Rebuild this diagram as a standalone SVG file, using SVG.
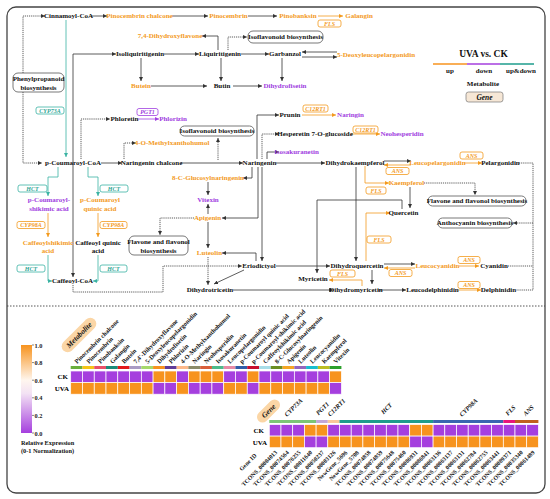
<svg xmlns="http://www.w3.org/2000/svg" width="550" height="499" viewBox="0 0 550 499">
<style>
.t{font-family:"Liberation Serif","Times New Roman",serif;font-weight:bold;font-size:7px;text-anchor:middle;dominant-baseline:central}
.k{fill:#111}.o{fill:#F39A1E}.p{fill:#A040E0}.tc{fill:#2FA595}
.gi{font-family:"Liberation Serif","Times New Roman",serif;font-weight:bold;font-style:italic;font-size:6px;text-anchor:middle;dominant-baseline:central}
.bx{fill:#fff;stroke:#555;stroke-width:0.8}
.gb{fill:#fff;stroke-width:0.8}
.gbo{stroke:#F39A1E}.gbt{stroke:#3BB3A3}.gbp{stroke:#A040E0}
.ln{stroke:#333;stroke-width:0.8;fill:none}
.dt{stroke-dasharray:1.2 0.9}
.ol{stroke:#F39A1E}.tl{stroke:#3BB3A3}.pl{stroke:#A040E0}
.co{fill:#F7931E;stroke:#fff;stroke-width:0.7}
.cp{fill:#A53FDE;stroke:#fff;stroke-width:0.7}
.hl{font-family:"Liberation Serif","Times New Roman",serif;font-weight:bold;font-size:6.3px}
</style>
<defs>
<marker id="ak" viewBox="0 0 6 6" refX="6" refY="3" markerWidth="4" markerHeight="4" markerUnits="userSpaceOnUse" orient="auto-start-reverse"><path d="M0,0L6,3L0,6z" fill="#333"/></marker>
<marker id="ao" viewBox="0 0 6 6" refX="6" refY="3" markerWidth="4" markerHeight="4" markerUnits="userSpaceOnUse" orient="auto-start-reverse"><path d="M0,0L6,3L0,6z" fill="#F39A1E"/></marker>
<marker id="at" viewBox="0 0 6 6" refX="6" refY="3" markerWidth="4" markerHeight="4" markerUnits="userSpaceOnUse" orient="auto-start-reverse"><path d="M0,0L6,3L0,6z" fill="#3BB3A3"/></marker>
<marker id="ap" viewBox="0 0 6 6" refX="6" refY="3" markerWidth="4" markerHeight="4" markerUnits="userSpaceOnUse" orient="auto-start-reverse"><path d="M0,0L6,3L0,6z" fill="#A040E0"/></marker>
<linearGradient id="cbar" x1="0" y1="0" x2="0" y2="1">
<stop offset="0" stop-color="#F7931E"/><stop offset="0.4" stop-color="#FFF6EE"/><stop offset="0.55" stop-color="#F3E2F4"/><stop offset="1" stop-color="#A53FDE"/>
</linearGradient>
</defs>
<rect x="7" y="7" width="538" height="486" rx="9" fill="#fff" stroke="#444" stroke-width="1.3"/>
<line x1="7" y1="306" x2="545" y2="306" stroke="#444" stroke-width="0.9" stroke-dasharray="1.5 1.5"/>

<g id="connectors">
<path class="ln dt" d="M23,73V16H45" marker-end="url(#ak)"/>
<path class="ln dt" d="M23,92V163H42" marker-end="url(#ak)"/>
<path class="ln" d="M91,16H107" marker-end="url(#ak)"/>
<path class="ln" d="M172,16H208" marker-end="url(#ak)"/>
<path class="ln" d="M248,16H277" marker-end="url(#ak)"/>
<path class="ln ol" d="M318,16H343" marker-end="url(#ao)"/>
<path class="ln tl" d="M66,20V157" marker-end="url(#at)"/>
<path class="ln" d="M116,54H73V277" marker-start="url(#ak)" marker-end="url(#ak)"/>
<path class="ln" d="M164,54H199" marker-end="url(#ak)"/>
<path class="ln" d="M141,58V81" marker-end="url(#ak)"/>
<path class="ln" d="M218,50V36H202" marker-end="url(#ak)"/>
<path class="ln dt" d="M228,50V37H247" marker-end="url(#ak)"/>
<path class="ln" d="M241,54H269" marker-end="url(#ak)"/>
<path class="ln" d="M337,52H302" marker-end="url(#ak)"/>
<path class="ln" d="M302,57H337" marker-end="url(#ak)"/>
<path class="ln" d="M221,58V81" marker-end="url(#ak)"/>
<path class="ln" d="M151,86H207" marker-end="url(#ak)"/>
<path class="ln" d="M233,86H262" marker-end="url(#ak)"/>
<path class="ln" d="M282,58V81" marker-end="url(#ak)"/>
<path class="ln dt" d="M81,159V119H110" marker-end="url(#ak)"/>
<path class="ln pl" d="M138,119H159" marker-end="url(#ap)"/>
<path class="ln dt" d="M124,159V143H136" marker-end="url(#ak)"/>
<path class="ln" d="M101,163H122" marker-end="url(#ak)"/>
<path class="ln" d="M181,163H243" marker-end="url(#ak)"/>
<path class="ln dt" d="M218,160V138" marker-end="url(#ak)"/>
<path class="ln" d="M257,159V115H279" marker-end="url(#ak)"/>
<path class="ln ol" d="M302,115H336" marker-end="url(#ao)"/>
<path class="ln dt" d="M262,159V134H279" marker-end="url(#ak)"/>
<path class="ln ol" d="M351,134H380" marker-end="url(#ao)"/>
<path class="ln" d="M267,159V152H279" marker-end="url(#ak)"/>
<path class="ln" d="M276,163H325" marker-end="url(#ak)"/>
<path class="ln" d="M252,167V178H243" marker-end="url(#ak)"/>
<path class="ln" d="M208,182V195" marker-end="url(#ak)"/>
<path class="ln" d="M208,214V204" marker-end="url(#ak)"/>
<path class="ln" d="M258,167V218H222" marker-end="url(#ak)"/>
<path class="ln" d="M262,167V261" marker-end="url(#ak)"/>
<path class="ln" d="M256,261V253H222" marker-end="url(#ak)"/>
<path class="ln" d="M208,222V248" marker-end="url(#ak)"/>
<path class="ln dt" d="M208,257V285" marker-end="url(#ak)"/>
<path class="ln dt" d="M194,218H160V235" marker-end="url(#ak)"/>
<path class="ln dt" d="M73,285V292H163V266H242" marker-end="url(#ak)"/>
<path class="ln" d="M244,270L214,284" marker-end="url(#ak)"/>
<path class="ln" d="M276,266H330" marker-end="url(#ak)"/>
<path class="ln" d="M233,290H333" marker-end="url(#ak)"/>
<path class="ln" d="M384,161H411" marker-end="url(#ak)"/>
<path class="ln ol" d="M411,165H384" marker-end="url(#ao)"/>
<path class="ln ol" d="M464,163H482" marker-end="url(#ao)"/>
<path class="ln dt" d="M519,163H533V290H516"/>
<path class="ln dt" d="M508,266H533"/>
<path class="ln dt" d="M533,223H513" marker-end="url(#ak)"/>
<path class="ln ol" d="M365,166V183H389" marker-end="url(#ao)"/>
<path class="ln dt" d="M424,183H475V195" marker-end="url(#ak)"/>
<path class="ln" d="M410,187V208" marker-end="url(#ak)"/>
<path class="ln" d="M356,167V261" marker-end="url(#ak)"/>
<path class="ln" d="M402,209V200H317V273" marker-end="url(#ak)"/>
<path class="ln ol" d="M366,261V213H390" marker-end="url(#ao)"/>
<path class="ln" d="M384,264H415" marker-end="url(#ak)"/>
<path class="ln ol" d="M415,268H384" marker-end="url(#ao)"/>
<path class="ln ol" d="M459,266H479" marker-end="url(#ao)"/>
<path class="ln" d="M372,270V284" marker-end="url(#ak)"/>
<path class="ln ol" d="M362,286V280H329" marker-end="url(#ao)"/>
<path class="ln" d="M378,290H406" marker-end="url(#ak)"/>
<path class="ln ol" d="M458,290H481" marker-end="url(#ao)"/>
<path class="ln tl" d="M58,167V177H48V196" marker-end="url(#at)"/>
<path class="ln tl" d="M88,167V177H98V196" marker-end="url(#at)"/>
<path class="ln ol" d="M48,213V237" marker-end="url(#ao)"/>
<path class="ln ol" d="M98,213V237" marker-end="url(#ao)"/>
<path class="ln tl" d="M48,255V281H52" marker-end="url(#at)"/>
<path class="ln tl" d="M98,255V281H93" marker-end="url(#at)"/>
</g>

<g id="nodes">
<g id="n-cinnamoyl"><text class="t k" x="68.5" y="16">Cinnamoyl-CoA</text></g>
<g id="n-pinochal"><text class="t o" x="139.5" y="16">Pinocembrin chalcone</text></g>
<g id="n-pinocembrin"><text class="t o" x="228.5" y="16">Pinocembrin</text></g>
<g id="n-pinobanksin"><text class="t o" x="298" y="16">Pinobanksin</text></g>
<g id="n-galangin"><text class="t o" x="359" y="16">Galangin</text></g>
<g id="g-fls1"><rect class="gb gbo" x="318" y="20" width="23" height="7" rx="2"/><text class="gi o" x="329.5" y="23.5">FLS</text></g>
<g id="n-dhf"><text class="t o" x="170" y="36">7,4-Dihydroxyflavone</text></g>
<g id="n-isoflav1"><rect class="bx" x="248" y="31" width="75" height="12" rx="5"/><text class="t k" x="285.5" y="37">Isoflavonoid biosynthesis</text></g>
<g id="n-isoliq"><text class="t k" x="140" y="54">Isoliquiritigenin</text></g>
<g id="n-liq"><text class="t k" x="220" y="54">Liquiritigenin</text></g>
<g id="n-garb"><text class="t k" x="285" y="54">Garbanzol</text></g>
<g id="n-5deoxy"><text class="t o" x="376" y="55">5-Deoxyleucopelargonidin</text></g>
<g id="n-phenyl"><rect class="bx" x="13" y="73" width="51" height="19" rx="5"/><text class="t k" x="38.5" y="79">Phenylpropanoid</text><text class="t k" x="38.5" y="87.5">biosynthesis</text></g>
<g id="n-butein"><text class="t o" x="141" y="86">Butein</text></g>
<g id="n-butin"><text class="t k" x="222" y="86">Butin</text></g>
<g id="n-dhfis"><text class="t p" x="285" y="86">Dihydrofisetin</text></g>
<g id="g-cyp73a"><rect class="gb gbt" x="36" y="107" width="28" height="7" rx="2"/><text class="gi tc" x="50" y="110.5">CYP73A</text></g>
<g id="n-phloretin"><text class="t k" x="124.5" y="119">Phloretin</text></g>
<g id="g-pgt1"><rect class="gb gbp" x="137" y="108.5" width="21" height="7" rx="2"/><text class="gi p" x="147.5" y="112">PGT1</text></g>
<g id="n-phlorizin"><text class="t p" x="173" y="119">Phlorizin</text></g>
<g id="n-prunin"><text class="t k" x="290" y="115">Prunin</text></g>
<g id="g-c12rt1a"><rect class="gb gbo" x="303" y="105" width="25" height="7" rx="2"/><text class="gi o" x="315.5" y="108.5">C12RT1</text></g>
<g id="n-naringin"><text class="t p" x="350.5" y="115">Naringin</text></g>
<g id="n-isoflav2"><rect class="bx" x="180" y="126" width="74" height="10" rx="4.5"/><text class="t k" x="217" y="131">Isoflavonoid biosynthesis</text></g>
<g id="n-hesp"><text class="t k" x="315" y="134">Hesperetin 7-O-glucoside</text></g>
<g id="g-c12rt1b"><rect class="gb gbo" x="353" y="126" width="25" height="7" rx="2"/><text class="gi o" x="365.5" y="129.5">C12RT1</text></g>
<g id="n-neohesp"><text class="t p" x="402" y="134">Neohesperidin</text></g>
<g id="n-4omx"><text class="t o" x="172" y="143">4-O-Methylxanthohumol</text></g>
<g id="n-isosak"><text class="t p" x="296.5" y="152">Isosakuranetin</text></g>
<g id="g-ans1"><rect class="gb gbo" x="460" y="152" width="23" height="7" rx="2"/><text class="gi o" x="471.5" y="155.5">ANS</text></g>
<g id="n-pcoa"><text class="t k" x="73" y="163">p-Coumaroyl-CoA</text></g>
<g id="n-narchal"><text class="t k" x="151.5" y="163">Naringenin chalcone</text></g>
<g id="n-naringenin"><text class="t k" x="259.5" y="163">Naringenin</text></g>
<g id="n-dhk"><text class="t k" x="355" y="163">Dihydrokaempferol</text></g>
<g id="n-leucopel"><text class="t o" x="437.5" y="163">Leucopelargonidin</text></g>
<g id="n-pelarg"><text class="t k" x="500.5" y="163">Pelargonidin</text></g>
<g id="g-ans2"><rect class="gb gbo" x="386" y="167.5" width="23" height="7" rx="2"/><text class="gi o" x="397.5" y="171">ANS</text></g>
<g id="n-8cg"><text class="t o" x="208" y="178">8-C-Glucosylnaringenin</text></g>
<g id="n-kaemp"><text class="t o" x="406.5" y="183">Kaempferol</text></g>
<g id="g-hct1"><rect class="gb gbt" x="18" y="185" width="29" height="7" rx="2"/><text class="gi tc" x="32.5" y="188.5">HCT</text></g>
<g id="g-hct2"><rect class="gb gbt" x="100" y="185" width="28" height="7" rx="2"/><text class="gi tc" x="114" y="188.5">HCT</text></g>
<g id="g-fls2"><rect class="gb gbo" x="366" y="187" width="20" height="7" rx="2"/><text class="gi o" x="376" y="190.5">FLS</text></g>
<g id="n-flav2"><rect class="bx" x="428" y="196" width="98" height="10" rx="4.5"/><text class="t k" x="477" y="201">Flavone and flavonol biosynthesis</text></g>
<g id="n-vitexin"><text class="t p" x="208" y="200">Vitexin</text></g>
<g id="n-pcs"><text class="t p" x="49" y="200">p-Coumaroyl-</text><text class="t p" x="49" y="209">shikimic acid</text></g>
<g id="n-pcq"><text class="t o" x="100" y="200">p-Coumaroyl</text><text class="t o" x="100" y="209">quinic acid</text></g>
<g id="n-querc"><text class="t k" x="403.5" y="213">Quercetin</text></g>
<g id="n-apigenin"><text class="t o" x="207.5" y="218">Apigenin</text></g>
<g id="n-antho"><rect class="bx" x="438" y="218" width="74" height="10" rx="4.5"/><text class="t k" x="475" y="223">Anthocyanin biosynthesis</text></g>
<g id="g-cyp98a1"><rect class="gb gbo" x="17" y="221.5" width="28" height="7" rx="2"/><text class="gi o" x="31" y="225">CYP98A</text></g>
<g id="g-cyp98a2"><rect class="gb gbo" x="100" y="221.5" width="27" height="7" rx="2"/><text class="gi o" x="113.5" y="225">CYP98A</text></g>
<g id="n-flav1"><rect class="bx" x="129" y="236" width="59" height="19" rx="5"/><text class="t k" x="158.5" y="242">Flavone and flavonol</text><text class="t k" x="158.5" y="250.5">biosynthesis</text></g>
<g id="g-fls3"><rect class="gb gbo" x="367" y="236" width="24" height="7" rx="2"/><text class="gi o" x="379" y="239.5">FLS</text></g>
<g id="n-cafshik"><text class="t o" x="48" y="243">Caffeoylshikimic</text><text class="t o" x="48" y="251">acid</text></g>
<g id="n-cafquin"><text class="t k" x="98" y="243">Caffeoyl quinic</text><text class="t k" x="98" y="251">acid</text></g>
<g id="n-luteolin"><text class="t o" x="209.5" y="253">Luteolin</text></g>
<g id="g-ans3"><rect class="gb gbo" x="458" y="256.5" width="22" height="7" rx="2"/><text class="gi o" x="469" y="260">ANS</text></g>
<g id="n-dhq"><text class="t k" x="357" y="266">Dihydroquercetin</text></g>
<g id="n-eriod"><text class="t k" x="259" y="266">Eriodictyol</text></g>
<g id="n-leucocy"><text class="t o" x="437.5" y="266">Leucocyanidin</text></g>
<g id="n-cyanidin"><text class="t k" x="494" y="266">Cyanidin</text></g>
<g id="g-hct3"><rect class="gb gbt" x="17" y="265" width="28" height="7" rx="2"/><text class="gi tc" x="31" y="268.5">HCT</text></g>
<g id="g-hct4"><rect class="gb gbt" x="100" y="265" width="27" height="7" rx="2"/><text class="gi tc" x="113.5" y="268.5">HCT</text></g>
<g id="g-ans4"><rect class="gb gbo" x="389" y="269.5" width="23" height="7" rx="2"/><text class="gi o" x="400.5" y="273">ANS</text></g>
<g id="g-fls4"><rect class="gb gbo" x="330" y="270" width="25" height="7" rx="2"/><text class="gi o" x="342.5" y="273.5">FLS</text></g>
<g id="n-myric"><text class="t k" x="313" y="279">Myricetin</text></g>
<g id="n-cafcoa"><text class="t k" x="72.5" y="281">Caffeoyl-CoA</text></g>
<g id="g-ans5"><rect class="gb gbo" x="458" y="281.5" width="22" height="7" rx="2"/><text class="gi o" x="469" y="285">ANS</text></g>
<g id="n-dhtri"><text class="t k" x="210" y="290">Dihydrotricetin</text></g>
<g id="n-dhmyr"><text class="t k" x="356" y="290">Dihydromyricetin</text></g>
<g id="n-leucodel"><text class="t k" x="432.5" y="290">Leucodelphinidin</text></g>
<g id="n-delph"><text class="t k" x="498.5" y="290">Delphinidin</text></g>
</g>

<g id="legend">
<text class="t k" x="483.5" y="54" style="font-size:9.5px">UVA vs. CK</text>
<line x1="433" y1="64" x2="467" y2="64" stroke="#F7931E" stroke-width="1.6"/>
<line x1="467" y1="64" x2="500" y2="64" stroke="#A53FDE" stroke-width="1.6"/>
<line x1="500" y1="64" x2="534" y2="64" stroke="#1E9C8C" stroke-width="1.6"/>
<text class="t k" x="450" y="70.5">up</text>
<text class="t k" x="484" y="70.5">down</text>
<text class="t k" x="521" y="70.5">up&amp;down</text>
<text class="t k" x="483" y="84">Metabolite</text>
<rect x="466" y="92" width="37" height="10" rx="2.5" fill="#F6E7D6" stroke="#777" stroke-width="0.7"/>
<text class="t k" x="484.5" y="97" style="font-style:italic;font-size:7.5px">Gene</text>
</g>

<g id="colorbar">
<rect x="21" y="345" width="11" height="88" fill="url(#cbar)"/>
<g stroke="#333" stroke-width="0.6"><line x1="32" y1="345" x2="34" y2="345"/><line x1="32" y1="362.6" x2="34" y2="362.6"/><line x1="32" y1="380.2" x2="34" y2="380.2"/><line x1="32" y1="397.8" x2="34" y2="397.8"/><line x1="32" y1="415.4" x2="34" y2="415.4"/><line x1="32" y1="433" x2="34" y2="433"/></g>
<g class="hl" fill="#222" style="dominant-baseline:central">
<text x="34.5" y="345">1.0</text><text x="34.5" y="362.6">0.8</text><text x="34.5" y="380.2">0.6</text><text x="34.5" y="397.8">0.4</text><text x="34.5" y="415.4">0.2</text><text x="34.5" y="433">0.0</text>
</g>
<text class="hl" x="21" y="445" fill="#111">Relative Expression</text>
<text class="hl" x="21" y="453" fill="#111">(0-1 Normalization)</text>
</g>

<g id="metabolite-heatmap">
<g transform="translate(79,335) rotate(-45)"><rect x="-22" y="-6" width="44" height="12" rx="6" fill="#FBD6A6"/><text class="t k" x="0" y="0" style="font-style:italic;font-size:7.5px">Metabolite</text></g>
<g id="mstrip">
<rect x="70.7" y="366" width="11.77" height="3" fill="#6AAF3D"/>
<rect x="82.47" y="366" width="11.77" height="3" fill="#F5C518"/>
<rect x="94.24" y="366" width="11.77" height="3" fill="#E8506A"/>
<rect x="106.01" y="366" width="11.77" height="3" fill="#1A8C7A"/>
<rect x="117.78" y="366" width="11.77" height="3" fill="#E31A1C"/>
<rect x="129.55" y="366" width="11.77" height="3" fill="#A99BC4"/>
<rect x="141.32" y="366" width="11.77" height="3" fill="#A6D96A"/>
<rect x="153.09" y="366" width="11.77" height="3" fill="#F7931E"/>
<rect x="164.86" y="366" width="11.77" height="3" fill="#5E3C99"/>
<rect x="176.63" y="366" width="11.77" height="3" fill="#FDB98A"/>
<rect x="188.4" y="366" width="11.77" height="3" fill="#8C8C6A"/>
<rect x="200.17" y="366" width="11.77" height="3" fill="#D95F3B"/>
<rect x="211.94" y="366" width="11.77" height="3" fill="#4DBB8A"/>
<rect x="223.71" y="366" width="11.77" height="3" fill="#E78AA6"/>
<rect x="235.48" y="366" width="11.77" height="3" fill="#2F5DA8"/>
<rect x="247.25" y="366" width="11.77" height="3" fill="#C8102E"/>
<rect x="259.02" y="366" width="11.77" height="3" fill="#A8DDE8"/>
<rect x="270.79" y="366" width="11.77" height="3" fill="#6B8E23"/>
<rect x="282.56" y="366" width="11.77" height="3" fill="#F5A623"/>
<rect x="294.33" y="366" width="11.77" height="3" fill="#9467BD"/>
<rect x="306.1" y="366" width="11.77" height="3" fill="#17BECF"/>
<rect x="317.87" y="366" width="11.77" height="3" fill="#BCBD22"/>
<rect x="329.64" y="366" width="11.77" height="3" fill="#2CA02C"/>
</g>
<g id="mcells">
<rect class="cp" x="70.7" y="371" width="11.77" height="11.6"/><rect class="co" x="70.7" y="382.6" width="11.77" height="11.6"/>
<rect class="cp" x="82.47" y="371" width="11.77" height="11.6"/><rect class="co" x="82.47" y="382.6" width="11.77" height="11.6"/>
<rect class="cp" x="94.24" y="371" width="11.77" height="11.6"/><rect class="co" x="94.24" y="382.6" width="11.77" height="11.6"/>
<rect class="cp" x="106.01" y="371" width="11.77" height="11.6"/><rect class="co" x="106.01" y="382.6" width="11.77" height="11.6"/>
<rect class="cp" x="117.78" y="371" width="11.77" height="11.6"/><rect class="co" x="117.78" y="382.6" width="11.77" height="11.6"/>
<rect class="cp" x="129.55" y="371" width="11.77" height="11.6"/><rect class="co" x="129.55" y="382.6" width="11.77" height="11.6"/>
<rect class="cp" x="141.32" y="371" width="11.77" height="11.6"/><rect class="co" x="141.32" y="382.6" width="11.77" height="11.6"/>
<rect class="co" x="153.09" y="371" width="11.77" height="11.6"/><rect class="cp" x="153.09" y="382.6" width="11.77" height="11.6"/>
<rect class="co" x="164.86" y="371" width="11.77" height="11.6"/><rect class="cp" x="164.86" y="382.6" width="11.77" height="11.6"/>
<rect class="cp" x="176.63" y="371" width="11.77" height="11.6"/><rect class="co" x="176.63" y="382.6" width="11.77" height="11.6"/>
<rect class="co" x="188.4" y="371" width="11.77" height="11.6"/><rect class="cp" x="188.4" y="382.6" width="11.77" height="11.6"/>
<rect class="co" x="200.17" y="371" width="11.77" height="11.6"/><rect class="cp" x="200.17" y="382.6" width="11.77" height="11.6"/>
<rect class="co" x="211.94" y="371" width="11.77" height="11.6"/><rect class="cp" x="211.94" y="382.6" width="11.77" height="11.6"/>
<rect class="cp" x="223.71" y="371" width="11.77" height="11.6"/><rect class="co" x="223.71" y="382.6" width="11.77" height="11.6"/>
<rect class="cp" x="235.48" y="371" width="11.77" height="11.6"/><rect class="co" x="235.48" y="382.6" width="11.77" height="11.6"/>
<rect class="co" x="247.25" y="371" width="11.77" height="11.6"/><rect class="cp" x="247.25" y="382.6" width="11.77" height="11.6"/>
<rect class="cp" x="259.02" y="371" width="11.77" height="11.6"/><rect class="co" x="259.02" y="382.6" width="11.77" height="11.6"/>
<rect class="cp" x="270.79" y="371" width="11.77" height="11.6"/><rect class="co" x="270.79" y="382.6" width="11.77" height="11.6"/>
<rect class="cp" x="282.56" y="371" width="11.77" height="11.6"/><rect class="co" x="282.56" y="382.6" width="11.77" height="11.6"/>
<rect class="cp" x="294.33" y="371" width="11.77" height="11.6"/><rect class="co" x="294.33" y="382.6" width="11.77" height="11.6"/>
<rect class="cp" x="306.1" y="371" width="11.77" height="11.6"/><rect class="co" x="306.1" y="382.6" width="11.77" height="11.6"/>
<rect class="cp" x="317.87" y="371" width="11.77" height="11.6"/><rect class="co" x="317.87" y="382.6" width="11.77" height="11.6"/>
<rect class="co" x="329.64" y="371" width="11.77" height="11.6"/><rect class="cp" x="329.64" y="382.6" width="11.77" height="11.6"/>
</g>
<text class="hl" x="68" y="379" text-anchor="end" style="font-size:7px">CK</text>
<text class="hl" x="69" y="391" text-anchor="end" style="font-size:7px">UVA</text>
<g id="mlabels" class="hl" fill="#111">
<text transform="translate(77.1,364) rotate(-45)">Pinocembrin chalcone</text>
<text transform="translate(88.9,364) rotate(-45)">Pinocembrin</text>
<text transform="translate(100.6,364) rotate(-45)">Pinobanksin</text>
<text transform="translate(112.4,364) rotate(-45)">Galangin</text>
<text transform="translate(124.2,364) rotate(-45)">Butein</text>
<text transform="translate(136,364) rotate(-45)">7,4'-Dihydroxyflavone</text>
<text transform="translate(147.7,364) rotate(-45)">5-Deoxyleucopelargonidin</text>
<text transform="translate(159.5,364) rotate(-45)">Dihydrofisetin</text>
<text transform="translate(171.3,364) rotate(-45)">Phlorizin</text>
<text transform="translate(183,364) rotate(-45)">4-O-Methylxanthohumol</text>
<text transform="translate(194.8,364) rotate(-45)">Naringin</text>
<text transform="translate(206.6,364) rotate(-45)">Neohesperidin</text>
<text transform="translate(218.3,364) rotate(-45)">Isosakuranetin</text>
<text transform="translate(230.1,364) rotate(-45)">Leucopelargonidin</text>
<text transform="translate(241.9,364) rotate(-45)">p-Coumaroyl quinic acid</text>
<text transform="translate(253.7,364) rotate(-45)">p-Coumaroyl-shikimic acid</text>
<text transform="translate(265.4,364) rotate(-45)">Caffeoylshikimic acid</text>
<text transform="translate(277.2,364) rotate(-45)">8-C-Glucosylnaringenin</text>
<text transform="translate(289,364) rotate(-45)">Apigenin</text>
<text transform="translate(300.7,364) rotate(-45)">Luteolin</text>
<text transform="translate(312.5,364) rotate(-45)">Leucocyanidin</text>
<text transform="translate(324.3,364) rotate(-45)">Kaempferol</text>
<text transform="translate(336,364) rotate(-45)">Vitexin</text>
</g>
</g>

<g id="gene-heatmap">
<g transform="translate(268.5,411) rotate(-45)"><rect x="-14" y="-5.5" width="28" height="11" rx="5.5" fill="#FBD6A6"/><text class="t k" x="0" y="0" style="font-style:italic;font-size:7.5px">Gene</text></g>
<g class="hl" fill="#111" style="font-style:italic;text-anchor:middle">
<text transform="translate(295,409) rotate(-45)">CYP73A</text>
<text transform="translate(324,410) rotate(-45)">PGT1</text>
<text transform="translate(338,409) rotate(-45)">C12RT1</text>
<text transform="translate(388,410) rotate(-45)">HCT</text>
<text transform="translate(470,409) rotate(-45)">CYP98A</text>
<text transform="translate(512,412) rotate(-45)">FLS</text>
<text transform="translate(530,412) rotate(-45)">ANS</text>
</g>
<rect x="269.3" y="420" width="46.8" height="3" fill="#7CC576"/>
<rect x="316.1" y="420" width="11.7" height="3" fill="#C3A6D8"/>
<rect x="327.8" y="420" width="11.7" height="3" fill="#F9C79A"/>
<rect x="339.5" y="420" width="93.6" height="3" fill="#1E9C8C"/>
<rect x="433.1" y="420" width="70.2" height="3" fill="#3A66B0"/>
<rect x="503.3" y="420" width="11.7" height="3" fill="#E8177A"/>
<rect x="515" y="420" width="23.4" height="3" fill="#C0601E"/>
<g id="gcells">
<rect class="cp" x="269.3" y="424.5" width="11.7" height="11.6"/><rect class="co" x="269.3" y="436.1" width="11.7" height="11.6"/>
<rect class="cp" x="281" y="424.5" width="11.7" height="11.6"/><rect class="co" x="281" y="436.1" width="11.7" height="11.6"/>
<rect class="cp" x="292.7" y="424.5" width="11.7" height="11.6"/><rect class="co" x="292.7" y="436.1" width="11.7" height="11.6"/>
<rect class="co" x="304.4" y="424.5" width="11.7" height="11.6"/><rect class="cp" x="304.4" y="436.1" width="11.7" height="11.6"/>
<rect class="co" x="316.1" y="424.5" width="11.7" height="11.6"/><rect class="cp" x="316.1" y="436.1" width="11.7" height="11.6"/>
<rect class="cp" x="327.8" y="424.5" width="11.7" height="11.6"/><rect class="co" x="327.8" y="436.1" width="11.7" height="11.6"/>
<rect class="cp" x="339.5" y="424.5" width="11.7" height="11.6"/><rect class="co" x="339.5" y="436.1" width="11.7" height="11.6"/>
<rect class="cp" x="351.2" y="424.5" width="11.7" height="11.6"/><rect class="co" x="351.2" y="436.1" width="11.7" height="11.6"/>
<rect class="cp" x="362.9" y="424.5" width="11.7" height="11.6"/><rect class="co" x="362.9" y="436.1" width="11.7" height="11.6"/>
<rect class="cp" x="374.6" y="424.5" width="11.7" height="11.6"/><rect class="co" x="374.6" y="436.1" width="11.7" height="11.6"/>
<rect class="cp" x="386.3" y="424.5" width="11.7" height="11.6"/><rect class="co" x="386.3" y="436.1" width="11.7" height="11.6"/>
<rect class="cp" x="398" y="424.5" width="11.7" height="11.6"/><rect class="co" x="398" y="436.1" width="11.7" height="11.6"/>
<rect class="co" x="409.7" y="424.5" width="11.7" height="11.6"/><rect class="cp" x="409.7" y="436.1" width="11.7" height="11.6"/>
<rect class="co" x="421.4" y="424.5" width="11.7" height="11.6"/><rect class="cp" x="421.4" y="436.1" width="11.7" height="11.6"/>
<rect class="cp" x="433.1" y="424.5" width="11.7" height="11.6"/><rect class="co" x="433.1" y="436.1" width="11.7" height="11.6"/>
<rect class="cp" x="444.8" y="424.5" width="11.7" height="11.6"/><rect class="co" x="444.8" y="436.1" width="11.7" height="11.6"/>
<rect class="cp" x="456.5" y="424.5" width="11.7" height="11.6"/><rect class="co" x="456.5" y="436.1" width="11.7" height="11.6"/>
<rect class="cp" x="468.2" y="424.5" width="11.7" height="11.6"/><rect class="co" x="468.2" y="436.1" width="11.7" height="11.6"/>
<rect class="cp" x="479.9" y="424.5" width="11.7" height="11.6"/><rect class="co" x="479.9" y="436.1" width="11.7" height="11.6"/>
<rect class="cp" x="491.6" y="424.5" width="11.7" height="11.6"/><rect class="co" x="491.6" y="436.1" width="11.7" height="11.6"/>
<rect class="cp" x="503.3" y="424.5" width="11.7" height="11.6"/><rect class="co" x="503.3" y="436.1" width="11.7" height="11.6"/>
<rect class="cp" x="515" y="424.5" width="11.7" height="11.6"/><rect class="co" x="515" y="436.1" width="11.7" height="11.6"/>
<rect class="cp" x="526.7" y="424.5" width="11.7" height="11.6"/><rect class="co" x="526.7" y="436.1" width="11.7" height="11.6"/>
</g>
<text class="hl" x="264" y="432.5" text-anchor="end" style="font-size:7px">CK</text>
<text class="hl" x="267" y="444.5" text-anchor="end" style="font-size:7px">UVA</text>
<g id="glabels" class="hl" fill="#111" style="text-anchor:end;font-size:6px">
<text transform="translate(257,456) rotate(-45)">Gene ID</text>
<text transform="translate(277.6,453) rotate(-45)">TCONS_00004013</text>
<text transform="translate(289.3,453) rotate(-45)">TCONS_00074564</text>
<text transform="translate(301,453) rotate(-45)">TCONS_00076255</text>
<text transform="translate(312.7,453) rotate(-45)">TCONS_00011640</text>
<text transform="translate(324.4,453) rotate(-45)">TCONS_00050237</text>
<text transform="translate(336.1,453) rotate(-45)">TCONS_00003126</text>
<text transform="translate(347.8,453) rotate(-45)">NewGene_5696</text>
<text transform="translate(359.5,453) rotate(-45)">NewGene_5708</text>
<text transform="translate(371.2,453) rotate(-45)">TCONS_00074858</text>
<text transform="translate(382.9,453) rotate(-45)">TCONS_00074859</text>
<text transform="translate(394.6,453) rotate(-45)">TCONS_00075648</text>
<text transform="translate(406.3,453) rotate(-45)">TCONS_00075460</text>
<text transform="translate(418,453) rotate(-45)">TCONS_00086931</text>
<text transform="translate(429.7,453) rotate(-45)">TCONS_00086841</text>
<text transform="translate(441.4,453) rotate(-45)">TCONS_00063136</text>
<text transform="translate(453.1,453) rotate(-45)">TCONS_00063137</text>
<text transform="translate(464.8,453) rotate(-45)">TCONS_00063131</text>
<text transform="translate(476.5,453) rotate(-45)">TCONS_00062784</text>
<text transform="translate(488.2,453) rotate(-45)">TCONS_00062755</text>
<text transform="translate(499.9,453) rotate(-45)">TCONS_00063441</text>
<text transform="translate(511.6,453) rotate(-45)">TCONS_00089371</text>
<text transform="translate(523.3,453) rotate(-45)">TCONS_00035340</text>
<text transform="translate(535,453) rotate(-45)">TCONS_00061489</text>
</g>
</g>
</svg>
